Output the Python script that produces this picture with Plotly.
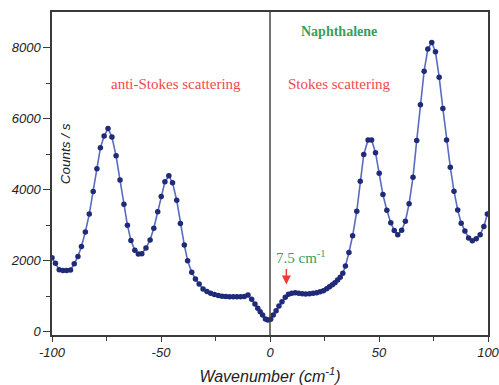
import plotly.graph_objects as go

wavenumber = [
    -100, -98.4, -96.7, -95.0, -93.3, -91.5, -89.8, -88.1, -86.5, -84.7,
    -82.9, -81.1, -79.4, -77.8, -76.1, -74.3, -72.5, -70.6, -68.8, -67.0,
    -65.4, -63.8, -62.0, -60.4, -58.8, -56.9, -55.0, -53.3, -51.5, -49.9,
    -48.2, -46.4, -44.7, -42.8, -41.1, -39.3, -37.8, -35.9, -34.2, -32.5,
    -30.7, -28.9, -27.2, -25.5, -23.7, -22.0, -20.3, -18.6, -16.9, -15.2,
    -13.5, -11.8, -10.1, -8.4, -6.9, -5.6, -4.5, -3.4, -2.1, -1.0,
    0.3, 1.5, 2.8, 4.1, 5.5, 7.0, 8.5, 10.0, 11.6, 13.2,
    14.8, 16.4, 18.1, 19.8, 21.4, 23.0, 24.5, 26.0, 27.3, 28.6,
    29.8, 31.0, 32.2, 33.4, 34.6, 36.2, 37.9, 39.8, 41.4, 43.0,
    45.0, 46.6, 48.4, 50.1, 51.8, 53.6, 55.4, 57.0, 58.6, 60.4,
    62.1, 63.8, 65.6, 67.3, 69.0, 70.7, 72.4, 74.2, 75.9, 77.6,
    79.3, 81.0, 82.7, 84.4, 86.1, 87.7, 89.4, 91.1, 92.8, 94.6,
    96.4, 98.1, 99.7,
]
counts = [
    2080, 1930, 1745, 1720, 1720, 1740, 1910, 2120, 2400, 2810,
    3310, 3950, 4590, 5175, 5510, 5720, 5480, 4950, 4270, 3590,
    3000, 2570, 2290, 2185, 2195, 2355, 2583, 2912, 3380, 3803,
    4220, 4390, 4195, 3700, 3045, 2440, 2000, 1672, 1480, 1344,
    1200, 1132, 1080, 1045, 1020, 995, 990, 985, 985, 985,
    985, 990, 1030, 912, 780, 659, 563, 470, 358, 330,
    349, 470, 592, 724, 845, 969, 1054, 1082, 1099, 1082,
    1070, 1062, 1070, 1082, 1099, 1127, 1155, 1211, 1268, 1324,
    1380, 1456, 1530, 1645, 1850, 2230, 2700, 3390, 4237, 4990,
    5400, 5400, 5040, 4460, 3860, 3420, 3070, 2850, 2730, 2855,
    3110, 3600, 4350, 5380, 6386, 7335, 7955, 8141, 7879, 7166,
    6282, 5400, 4631, 3955, 3428, 3054, 2837, 2640, 2563, 2620,
    2732, 2958, 3315,
]

x_ticks = [-100, -50, 0, 50, 100]
x_tick_labels = ["-100", "-50", "0", "50", "100"]
x_minor = [-75, -25, 25, 75]
y_ticks = [0, 2000, 4000, 6000, 8000]
y_tick_labels = ["0", "2000", "4000", "6000", "8000"]
y_minor = [1000, 3000, 5000, 7000]

axis_col = "#3a3a3a"
sans = "Liberation Sans, Arial"
serif = "Liberation Serif, Times New Roman"
tick_font = dict(family=sans, size=13, color="#222", style="italic")

fig = go.Figure()
fig.add_trace(go.Scatter(
    x=wavenumber, y=counts, mode="lines+markers",
    line=dict(color="#5a6cc0", width=1.6),
    marker=dict(color="#1f2a78", size=5.5),
    showlegend=False, hoverinfo="skip",
))

fig.update_layout(
    width=499, height=385,
    margin=dict(l=52, r=11, t=12, b=50),
    paper_bgcolor="white", plot_bgcolor="white",
    xaxis=dict(
        range=[-100, 100], tickmode="array", tickvals=x_ticks, ticktext=x_tick_labels,
        ticks="outside", ticklen=5, tickwidth=1.3, tickcolor=axis_col,
        minor=dict(tickmode="array", tickvals=x_minor, ticks="outside",
                   ticklen=4, tickwidth=1.3, tickcolor=axis_col),
        showline=True, linecolor=axis_col, linewidth=1.5, mirror=True,
        showgrid=False, zeroline=False, tickfont=tick_font, automargin=False,
        ticklabeloverflow="allow",
        title=dict(text="Wavenumber (cm<sup>-1</sup>)", standoff=14,
                   font=dict(family=sans, size=16, color="#222", style="italic")),
    ),
    yaxis=dict(
        range=[-93, 9000], tickmode="array", tickvals=y_ticks, ticktext=y_tick_labels,
        ticks="outside", ticklen=7, tickwidth=1.3, tickcolor=axis_col,
        minor=dict(tickmode="array", tickvals=y_minor, ticks="outside",
                   ticklen=4, tickwidth=1.3, tickcolor=axis_col),
        showline=True, linecolor=axis_col, linewidth=1.5, mirror=True,
        showgrid=False, zeroline=False, tickfont=tick_font, automargin=False,
    ),
)

fig.add_vline(x=0, line=dict(color=axis_col, width=1.4))

fig.add_annotation(
    x=-94, y=5000, xref="x", yref="y", text="Counts / s",
    textangle=-90, showarrow=False,
    font=dict(family=sans, size=13.5, color="#222", style="italic"),
)
fig.add_annotation(x=-43, y=6980, xref="x", yref="y", text="anti-Stokes scattering",
                   showarrow=False, font=dict(family=serif, size=15, color="#f04a4a"))
fig.add_annotation(x=32, y=6980, xref="x", yref="y", text="Stokes scattering",
                   showarrow=False, font=dict(family=serif, size=15, color="#f04a4a"))
fig.add_annotation(x=31.7, y=8445, xref="x", yref="y", text="<b>Naphthalene</b>",
                   showarrow=False, font=dict(family=serif, size=14, color="#35a060"))
fig.add_annotation(x=14, y=2100, xref="x", yref="y", text="7.5 cm<sup>-1</sup>",
                   showarrow=False, font=dict(family=serif, size=15, color="#35a060"))
fig.add_annotation(x=7.5, y=1330, ax=7.5, ay=1810, xref="x", yref="y", axref="x", ayref="y",
                   text="", showarrow=True, arrowhead=2, arrowsize=1.2, arrowwidth=1.5,
                   arrowcolor="#f03a3a")

fig.write_html("out.html", config={"displayModeBar": False},
               post_script="document.body.style.margin='0';")
